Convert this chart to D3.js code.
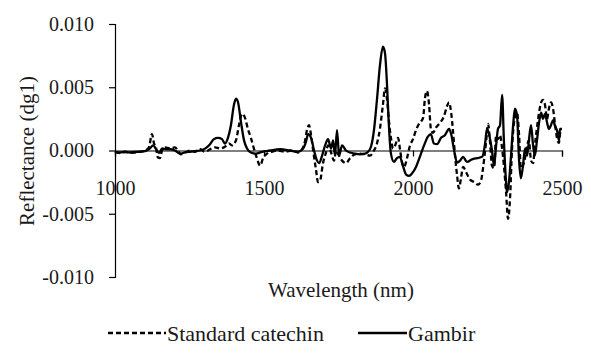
<!DOCTYPE html>
<html>
<head>
<meta charset="utf-8">
<script src="https://cdn.jsdelivr.net/npm/d3@7"></script>
<style>
  html, body { margin: 0; padding: 0; background: #fff; }
  svg { display: block; }
</style>
</head>
<body>
<svg id="chart" width="591" height="356"></svg>
<script>
// ---- Data ----
const xTicks = [1000, 1500, 2000, 2500];
const yTicks = [-0.010, -0.005, 0.000, 0.005, 0.010];
const yTickLabels = ["-0.010", "-0.005", "0.000", "0.005", "0.010"];
const seriesNames = ["Standard catechin", "Gambir"];

const catechinWl = [1000,1017,1034,1050,1067,1084,1101,1114,1124,1131,1138,1144,1151,1158,1168,1185,1201,1211,1221,1235,1252,1268,1285,1302,1319,1336,1352,1369,1383,1393,1406,1416,1426,1436,1446,1456,1466,1476,1487,1497,1510,1527,1547,1570,1594,1614,1628,1638,1644,1651,1658,1665,1675,1681,1688,1698,1708,1715,1725,1735,1742,1748,1762,1775,1789,1805,1822,1839,1856,1869,1879,1889,1899,1906,1913,1919,1926,1933,1940,1950,1956,1963,1970,1980,1990,2000,2010,2020,2027,2034,2040,2047,2054,2060,2067,2077,2091,2104,2114,2121,2128,2134,2141,2148,2154,2161,2168,2178,2191,2205,2218,2228,2235,2242,2248,2252,2258,2265,2272,2279,2285,2292,2299,2305,2312,2319,2326,2332,2339,2349,2356,2362,2369,2376,2383,2389,2396,2403,2409,2416,2423,2430,2436,2443,2450,2456,2463,2470,2477,2483,2490,2493,2500];
const catechinVal = [-0.0001,-0.0002,-0.00012,-0.00016,-0.00016,-0.0001,0,0.00025,0.0013,0.00055,0.00016,-0.00055,-0.0006,0,0.00025,0.00016,0.00025,0,-0.0003,-0.00016,0,-0.0001,0.0001,-0.0001,0.0001,0.00025,0.00016,0.0003,0.00055,0.0004,0.0008,0.002,0.0029,0.0026,0.0017,0.001,0.00016,-0.0006,-0.0012,-0.0006,-0.00025,-0.0001,0,-0.0001,0,-0.00016,0.0001,0.0008,0.0016,0.002,0.0012,0,-0.0016,-0.0025,-0.0024,-0.001,-0.00016,0.0004,-0.00016,-0.0008,0,-0.00025,-0.0008,-0.001,-0.0006,-0.0003,-0.00025,-0.0003,-0.0004,0,0.00055,0.0017,0.0036,0.0049,0.004,0.0024,0.001,0.00016,0.0004,0.001,0.00016,-0.0009,-0.0013,-0.0006,0.0004,0.0009,0.0016,0.0021,0.0023,0.0026,0.0041,0.0047,0.0036,0.0017,0.0014,0.0018,0.0022,0.0027,0.0035,0.0038,0.003,0.0016,-0.0004,-0.002,-0.003,-0.0022,-0.0013,-0.0017,-0.0023,-0.0025,-0.0027,-0.0024,-0.0014,0,0.0013,0.0021,0.0008,-0.0012,-0.0014,0.0012,0.0009,0.0012,0.00016,-0.0012,-0.0032,-0.0054,-0.0036,0,0.0022,0.003,0.0012,-0.0014,-0.0012,-0.0006,0.0004,0.0008,-0.0008,-0.001,0.0004,0.0018,0.003,0.0038,0.004,0.0036,0.0025,0.0033,0.0038,0.0033,0.002,0.001,0.0006,0.0013,0.0016];

const gambirWl = [1000,1017,1034,1050,1067,1084,1101,1117,1128,1138,1148,1158,1171,1185,1201,1218,1235,1252,1268,1285,1302,1319,1332,1346,1359,1369,1379,1389,1399,1406,1413,1423,1433,1443,1456,1473,1493,1520,1554,1587,1614,1631,1641,1648,1658,1668,1678,1685,1695,1705,1715,1725,1732,1738,1745,1752,1762,1775,1789,1805,1822,1839,1849,1859,1869,1879,1889,1899,1906,1913,1919,1926,1936,1946,1956,1966,1977,1987,1997,2010,2023,2037,2050,2060,2070,2081,2094,2107,2121,2128,2138,2148,2158,2168,2181,2198,2215,2232,2242,2248,2255,2265,2272,2279,2285,2292,2299,2305,2312,2315,2322,2329,2336,2342,2349,2356,2362,2369,2376,2383,2389,2396,2403,2409,2416,2423,2430,2436,2443,2450,2456,2463,2470,2477,2483,2490,2493,2500];
const gambirVal = [-0.00012,-0.00016,-0.0001,-0.00016,-0.00012,-0.0001,-0.00005,0.00016,0.0004,0.0001,-0.0002,0.00016,0.0001,0.0001,0,-0.00025,-0.00015,-0.0001,-0.00005,0,0.00015,0.0005,0.0009,0.001,0.0009,0.00055,0.001,0.002,0.0036,0.0041,0.0038,0.0022,0.0008,0.00016,-0.00016,-0.00025,-0.0001,0,0.0001,0,-0.0001,0.00015,0.0007,0.0013,0.001,0,-0.0008,-0.001,-0.0004,0.0004,0.0009,0.00016,0.0008,-0.0004,0.0016,-0.0004,0.0004,0,-0.00016,-0.00025,-0.0003,-0.00025,-0.0001,0.0003,0.0016,0.004,0.0067,0.0082,0.0077,0.0051,0.002,-0.00025,-0.0009,-0.0006,-0.0005,-0.0012,-0.0019,-0.002,-0.0018,-0.0013,-0.0005,0.0004,0.0011,0.0013,0.00055,0.0005,0.001,0.0012,0.0017,0.0013,0,-0.00095,-0.0008,-0.0005,-0.0009,-0.0007,-0.0006,-0.0005,0.00055,0.0017,0.0013,0,-0.0012,0.0004,0.0017,0.002,0.0044,0.0008,-0.0024,-0.0033,-0.0025,-0.0004,0.002,0.0033,0.0028,-0.0008,-0.0022,-0.0012,0.00016,-0.0004,0.0008,0.002,0.0004,-0.0004,0.0008,0.0022,0.003,0.0025,0.0029,0.0022,0.0017,0.002,0.0024,0.0019,0.0016,0.0008,0.0017,0.0017];

// ---- Layout ----
const FONT = '"Liberation Serif", "Times New Roman", serif';
const TEXT_COLOR = "#1a1a1a";
const svg = d3.select("#chart");
const x = d3.scaleLinear().domain([1000, 2500]).range([115, 562]);
const y = d3.scaleLinear().domain([-0.010, 0.010]).range([277, 24]);

// Y axis
const yAxis = d3.axisLeft(y).tickValues(yTicks)
  .tickFormat((d, i) => yTickLabels[i]).tickSize(6).tickSizeOuter(6).tickPadding(15);
const gy = svg.append("g").attr("transform", `translate(${x(1000)},0)`).call(yAxis);
gy.select(".domain").attr("stroke", "#000").attr("stroke-width", 1.2);
gy.selectAll(".tick line").attr("stroke", "#000").attr("stroke-width", 1.2);
gy.selectAll(".tick text").style("font-family", FONT).style("font-size", "20px").style("fill", TEXT_COLOR);

// X axis (crosses at zero)
const xAxis = d3.axisBottom(x).tickValues(xTicks).tickFormat(d3.format("d"))
  .tickSize(6).tickSizeOuter(6).tickPadding(24);
const gx = svg.append("g").attr("transform", `translate(0,${y(0)})`).call(xAxis);
gx.select(".domain").attr("stroke", "#000").attr("stroke-width", 1.2);
gx.selectAll(".tick line").attr("stroke", "#000").attr("stroke-width", 1.2);
gx.selectAll(".tick text").style("font-family", FONT).style("font-size", "20px").style("fill", TEXT_COLOR);

// Lines
const line = d3.line().x(d => x(d[0])).y(d => y(d[1])).curve(d3.curveMonotoneX);
const catechin = catechinWl.map((w, i) => [w, catechinVal[i]]);
const gambir = gambirWl.map((w, i) => [w, gambirVal[i]]);

svg.append("path").datum(gambir).attr("d", line)
  .attr("fill", "none").attr("stroke", "#000").attr("stroke-width", 2.3)
  .attr("stroke-linejoin", "round");
svg.append("path").datum(catechin).attr("d", line)
  .attr("fill", "none").attr("stroke", "#000").attr("stroke-width", 2.3)
  .attr("stroke-dasharray", "5,3");

// Axis titles
svg.append("text").attr("x", 341).attr("y", 297).attr("text-anchor", "middle")
  .style("font-family", FONT).style("font-size", "21px").style("fill", TEXT_COLOR)
  .text("Wavelength (nm)");
svg.append("text").attr("transform", "translate(34,151) rotate(-90)")
  .attr("text-anchor", "middle")
  .style("font-family", FONT).style("font-size", "21px").style("fill", TEXT_COLOR)
  .text("Reflectance (dg1)");

// Legend
const legY = 333;
svg.append("line").attr("x1", 108).attr("x2", 166).attr("y1", legY).attr("y2", legY)
  .attr("stroke", "#000").attr("stroke-width", 2.3).attr("stroke-dasharray", "5,3");
svg.append("text").attr("x", 167).attr("y", 341)
  .style("font-family", FONT).style("font-size", "22px").style("fill", TEXT_COLOR)
  .text(seriesNames[0]);
svg.append("line").attr("x1", 358).attr("x2", 407).attr("y1", legY).attr("y2", legY)
  .attr("stroke", "#000").attr("stroke-width", 2.3);
svg.append("text").attr("x", 408).attr("y", 341)
  .style("font-family", FONT).style("font-size", "22px").style("fill", TEXT_COLOR)
  .text(seriesNames[1]);
</script>
</body>
</html>
